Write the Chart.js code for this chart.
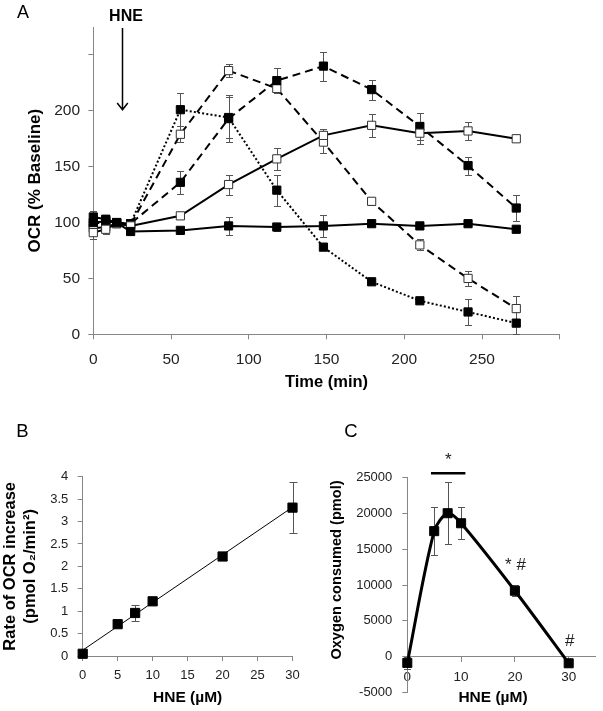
<!DOCTYPE html>
<html><head><meta charset="utf-8">
<script src="https://cdn.jsdelivr.net/npm/chart.js@4.4.1/dist/chart.umd.min.js"></script>
<style>
html,body{margin:0;padding:0;background:#fff;width:603px;height:711px;overflow:hidden;}
canvas{position:absolute;}
#cA{left:0;top:0;} #cB{left:0;top:380px;} #cC{left:300px;top:380px;}
</style></head><body>
<canvas id="cA" width="603" height="395"></canvas>
<canvas id="cB" width="300" height="331"></canvas>
<canvas id="cC" width="303" height="331"></canvas>
<script>
// ---------- Panel A data ----------
const timeMin = [0, 8, 15, 24, 56, 87, 118, 148, 179, 210, 241, 272];
const seriesSolidFilled  = [105, 103, 100, 92, 93, 97, 96, 97, 99, 97, 99, 94];
const errSolidFilled     = [5, 4, 3, 3, 3, 8, 4, 10, 2, 3, 2, 2];
const seriesSolidOpen    = [91, 94, 99, 97, 106, 134, 157, 178, 187, 180, 182, 175];
const errSolidOpen       = [6, 4, 3, 3, 3, 9, 10, 6, 10, 10, 8, 0];
const seriesDashedFilled = [100, 101, 100, 99, 136, 193, 227, 240, 219, 186, 151, 113];
const errDashedFilled    = [4, 3, 3, 3, 10, 21, 11, 13, 9, 12, 8, 12];
const seriesDashedOpen   = [95, 96, 99, 98, 179, 236, 220, 172, 119, 80, 50, 23];
const errDashedOpen      = [5, 4, 3, 3, 7, 6, 4, 10, 3, 5, 7, 11];
const seriesDottedFilled = [98, 102, 100, 99, 201, 194, 129, 78, 47, 30, 20, 10];
const errDottedFilled    = [4, 3, 3, 3, 15, 18, 14, 2, 2, 2, 12, 10];
const hneArrowTime = 18.5;

// ---------- Panel B data ----------
const hneB  = [0, 5, 7.5, 10, 20, 30];
const rateB = [0.05, 0.71, 0.96, 1.22, 2.22, 3.31];
const errB  = [0.03, 0.04, 0.18, 0.06, 0.08, 0.57];
const trendX = [0, 30];
const trendY = [0.13, 3.32];

// ---------- Panel C data ----------
const hneC = [0, 5, 7.5, 10, 20, 30];
const oxyC = [-850, 17500, 20000, 18600, 9200, -900];
const errC = [800, 3300, 4350, 2200, 800, 300];
const sigBarX = [4.4, 10.8];
const sigBarY = 25550;
const sigText = ['*', '* #', '#'];
const sigTextX = [7.6, 20.1, 30.2];
const sigTextY = [27300, 12800, 2100];

Chart.defaults.font.family = "'Liberation Sans', Arial, Helvetica, sans-serif";
Chart.defaults.color = '#222';
const AX = '#868686';

const pts = (xs, ys) => xs.map((x, i) => ({x: x, y: ys[i]}));

const errPlugin = {
  id: 'errbars',
  beforeDatasetsDraw(chart, args, opts) {
    const ctx = chart.ctx, ys = chart.scales.y;
    ctx.save();
    ctx.strokeStyle = opts.color || '#555';
    ctx.lineWidth = 1;
    chart.data.datasets.forEach((ds, i) => {
      if (!ds.errY) return;
      const meta = chart.getDatasetMeta(i);
      meta.data.forEach((pt, j) => {
        const e = ds.errY[j]; if (!e) return;
        const v = ds.data[j].y;
        const y1 = Math.round(ys.getPixelForValue(v + e)) + 0.5;
        const y2 = Math.round(ys.getPixelForValue(v - e)) + 0.5;
        const x = Math.round(pt.x) + 0.5, c = opts.cap || 3.5;
        ctx.beginPath();
        ctx.moveTo(x, y1); ctx.lineTo(x, y2);
        ctx.moveTo(x - c, y1); ctx.lineTo(x + c, y1);
        ctx.moveTo(x - c, y2); ctx.lineTo(x + c, y2);
        ctx.stroke();
      });
    });
    ctx.restore();
  }
};

function lineSet(vals, errs, filled, dash) {
  return {
    data: pts(timeMin, vals), errY: errs,
    borderColor: '#000', borderWidth: 2, borderDash: dash, borderCapStyle: 'butt',
    pointStyle: 'rect', pointRadius: 5.8, pointHoverRadius: 5.8,
    pointBackgroundColor: filled ? '#000' : '#fff',
    pointBorderColor: filled ? '#000' : '#333', pointBorderWidth: 1,
    tension: 0, clip: false
  };
}

function axisBase(extra) {
  return Object.assign({
    grid: {drawOnChartArea: false, drawTicks: true, tickLength: 5, color: AX, lineWidth: 1},
    border: {display: true, color: AX, width: 1}
  }, extra);
}

// ---------- Panel A ----------
const textA = {
  id: 'textA',
  afterDraw(chart) {
    const ctx = chart.ctx, xs = chart.scales.x, ys = chart.scales.y;
    ctx.save();
    ctx.fillStyle = '#000';
    ctx.font = "18px 'Liberation Sans', Arial, sans-serif";
    ctx.textAlign = 'center'; ctx.textBaseline = 'middle';
    ctx.fillText('A', 23, 13);
    const ax = Math.round(xs.getPixelForValue(hneArrowTime)) + 0.5;
    ctx.font = "bold 16px 'Liberation Sans', Arial, sans-serif";
    ctx.fillText('HNE', ax + 3.5, 17);
    const yt = ys.getPixelForValue(274), yb = ys.getPixelForValue(201);
    ctx.strokeStyle = '#000'; ctx.lineWidth = 1.5;
    ctx.beginPath();
    ctx.moveTo(ax, yt); ctx.lineTo(ax, yb);
    ctx.moveTo(ax - 5.3, yb - 6.7); ctx.lineTo(ax, yb); ctx.lineTo(ax + 5.3, yb - 6.7);
    ctx.stroke();
    ctx.restore();
  }
};

new Chart(document.getElementById('cA'), {
  type: 'line',
  data: {datasets: [
    lineSet(seriesSolidFilled, errSolidFilled, true, []),
    lineSet(seriesSolidOpen, errSolidOpen, false, []),
    lineSet(seriesDashedFilled, errDashedFilled, true, [8, 5]),
    lineSet(seriesDashedOpen, errDashedOpen, false, [8, 5]),
    lineSet(seriesDottedFilled, errDottedFilled, true, [2, 2.2])
  ]},
  options: {
    responsive: false, animation: false, devicePixelRatio: 1,
    layout: {padding: {left: 0, top: 27, right: 43.2, bottom: 0}},
    plugins: {legend: {display: false}, tooltip: {enabled: false}, errbars: {color: '#555', cap: 3.5}},
    scales: {
      x: axisBase({type: 'linear', min: 0, max: 300,
        ticks: {stepSize: 50, includeBounds: false, padding: 11.4, autoSkip: false, maxRotation: 0,
          font: {size: 15.5}, callback: v => v === 300 ? '' : String(v)},
        title: {display: true, text: 'Time (min)', color: '#000', font: {size: 16.5, weight: 'bold'}, padding: {top: 0, bottom: 3}},
        afterFit: s => { s.height = 60.7; s.paddingLeft = 0; s.paddingRight = 0; }}),
      y: axisBase({min: 0, max: 275,
        ticks: {stepSize: 50, includeBounds: false, padding: 8.3, font: {size: 15.5}, callback: v => v === 250 ? '' : String(v)},
        title: {display: true, text: 'OCR (% Baseline)', color: '#000', font: {size: 17, weight: 'bold'}, padding: {top: 24.8, bottom: 0}},
        afterFit: s => { s.width = 93.3; s.paddingTop = 0; s.paddingBottom = 0; }})
    }
  },
  plugins: [errPlugin, textA]
});

// ---------- Panel B ----------
const textB = {
  id: 'textB',
  afterDraw(chart) {
    const ctx = chart.ctx;
    ctx.save();
    ctx.fillStyle = '#000';
    ctx.font = "18.5px 'Liberation Sans', Arial, sans-serif";
    ctx.textAlign = 'center'; ctx.textBaseline = 'middle';
    ctx.fillText('B', 22.5, 52);
    ctx.restore();
  }
};

new Chart(document.getElementById('cB'), {
  type: 'line',
  data: {datasets: [
    {data: pts(trendX, trendY), borderColor: '#000', borderWidth: 1, pointRadius: 0, clip: false},
    {data: pts(hneB, rateB), errY: errB, showLine: false, pointStyle: 'rect', pointRadius: 6.5,
     pointBackgroundColor: '#000', pointBorderColor: '#000', pointBorderWidth: 1, clip: false}
  ]},
  options: {
    responsive: false, animation: false, devicePixelRatio: 1,
    layout: {padding: {left: 0, top: 96.7, right: 4, bottom: 0}},
    plugins: {legend: {display: false}, tooltip: {enabled: false}, errbars: {color: '#555', cap: 4}},
    scales: {
      x: axisBase({type: 'linear', min: 0, max: 30,
        ticks: {stepSize: 5, includeBounds: false, padding: 6.2, autoSkip: false, maxRotation: 0,
          font: {size: 13}, callback: v => String(v)},
        title: {display: true, text: 'HNE (µM)', color: '#000', font: {size: 15.5, weight: 'bold'}, padding: {top: 0, bottom: 3.7}},
        afterFit: s => { s.height = 55; s.paddingLeft = 0; s.paddingRight = 0; }}),
      y: axisBase({min: 0, max: 4,
        ticks: {stepSize: 0.5, includeBounds: false, padding: 9.4, font: {size: 13}, callback: v => String(v)},
        title: {display: true, text: ['Rate of OCR increase', '(pmol O₂/min²)'], color: '#000',
          font: {size: 16.5, weight: 'bold'}, padding: {top: 1, bottom: 0}},
        afterFit: s => { s.width = 82.7; s.paddingTop = 0; s.paddingBottom = 0; }})
    }
  },
  plugins: [errPlugin, textB]
});

// ---------- Panel C ----------
const textC = {
  id: 'textC',
  afterDraw(chart) {
    const ctx = chart.ctx, xs = chart.scales.x, ys = chart.scales.y;
    ctx.save();
    ctx.fillStyle = '#000';
    ctx.font = "18.5px 'Liberation Sans', Arial, sans-serif";
    ctx.textAlign = 'center'; ctx.textBaseline = 'middle';
    ctx.fillText('C', 51, 52);
    ctx.font = "bold 15.5px 'Liberation Sans', Arial, sans-serif";
    ctx.fillText('HNE (µM)', 193, 318);
    ctx.save();
    ctx.translate(37, 190);
    ctx.rotate(-Math.PI / 2);
    ctx.font = "bold 14.6px 'Liberation Sans', Arial, sans-serif";
    ctx.fillText('Oxygen consumed (pmol)', 0, 0);
    ctx.restore();
    // significance bar
    ctx.strokeStyle = '#000'; ctx.lineWidth = 2.5;
    const by = ys.getPixelForValue(sigBarY);
    ctx.beginPath();
    ctx.moveTo(xs.getPixelForValue(sigBarX[0]), by);
    ctx.lineTo(xs.getPixelForValue(sigBarX[1]), by);
    ctx.stroke();
    ctx.font = "17px 'Liberation Sans', Arial, sans-serif";
    ctx.fillStyle = '#222';
    sigText.forEach((t, i) => {
      ctx.fillText(t, xs.getPixelForValue(sigTextX[i]), ys.getPixelForValue(sigTextY[i]));
    });
    ctx.restore();
  }
};

new Chart(document.getElementById('cC'), {
  type: 'line',
  data: {datasets: [
    {data: pts(hneC, oxyC), errY: errC, borderColor: '#000', borderWidth: 3, tension: 0.3,
     pointStyle: 'rect', pointRadius: 6.4, pointBackgroundColor: '#000', pointBorderColor: '#000',
     pointBorderWidth: 1, clip: false}
  ]},
  options: {
    responsive: false, animation: false, devicePixelRatio: 1,
    layout: {padding: {left: 0, top: 97.3, right: 3.9, bottom: 18.3}},
    plugins: {legend: {display: false}, tooltip: {enabled: false}, errbars: {color: '#555', cap: 3.5}},
    scales: {
      x: axisBase({type: 'linear', min: 0, max: 35, position: {y: 0},
        ticks: {stepSize: 10, includeBounds: false, padding: 7.2, autoSkip: false, maxRotation: 0,
          font: {size: 13.5}, callback: v => String(v)},
        afterFit: s => { s.height = 18.3; s.paddingLeft = 0; s.paddingRight = 0; s.paddingTop = 0; s.paddingBottom = 0; }}),
      y: axisBase({min: -5000, max: 25000,
        ticks: {stepSize: 5000, includeBounds: false, padding: 10, font: {size: 13}, callback: v => String(v)},
        afterFit: s => { s.width = 107.3; s.paddingTop = 0; s.paddingBottom = 0; }})
    }
  },
  plugins: [errPlugin, textC]
});
</script>
</body></html>
